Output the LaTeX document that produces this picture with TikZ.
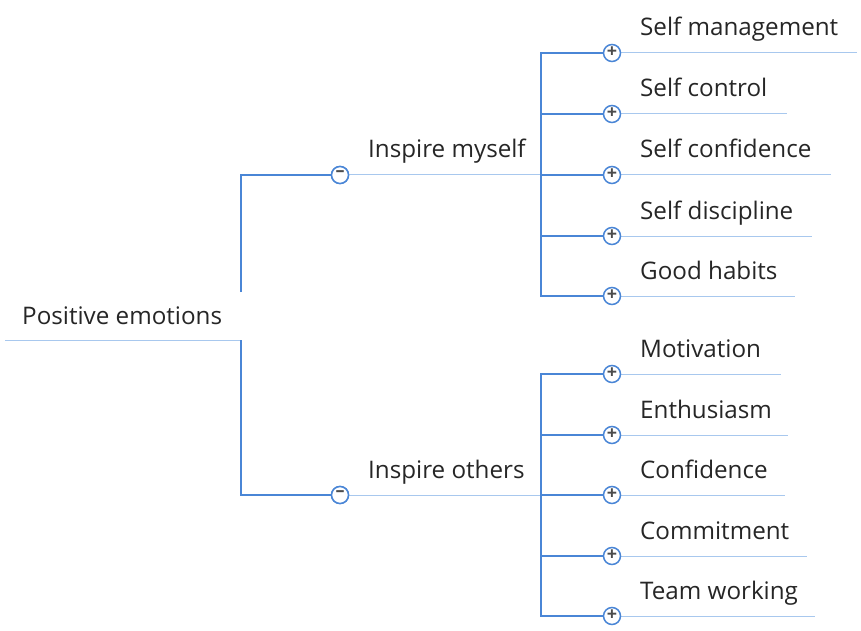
\documentclass[tikz,border=0pt]{standalone}
\usepackage{fontspec}
\setmainfont{Open Sans}
\usepackage{tikz}
\usetikzlibrary{positioning,calc}
\definecolor{LineBlue}{RGB}{74,134,214}
\definecolor{PaleBlue}{RGB}{168,200,238}
\definecolor{TextGray}{RGB}{38,38,38}
\tikzset{
  main/.style={draw=LineBlue,line width=1.5pt},
  under/.style={draw=PaleBlue,line width=1pt},
  toggle/.style={circle,draw=LineBlue,fill=white,line width=1.5pt,minimum size=17pt,
    inner sep=0pt,text=black!70,font=\fontsize{18}{18}\selectfont\bfseries},
  topic/.style={anchor=base west,inner sep=0pt,text=TextGray,font=\fontsize{24.2}{26}\selectfont},
}

\begin{document}
\begin{tikzpicture}[x=1pt,y=-1pt]
\useasboundingbox (0,0) rectangle (861,631);
% root
\coordinate (r0) at (5,340);
\coordinate (r1) at (241,340);
\coordinate (r2) at (241,292);
\draw[under] (r0) -- (r1);
\node[topic] (root) at (22,324) {Positive emotions};
% branches
\coordinate (b1) at (541,175);
\coordinate (b2) at (541,495);
\node[toggle] (t1) at (340,175) {};
\node[toggle] (t2) at (340,495) {};
\draw[main] (r2) |- (t1.west);
\draw[main] (r1) |- (t2.west);
\draw[under] (t1.east) -- (b1);
\draw[under] (t2.east) -- (b2);
\node[topic] (n1) at (368,158) {Inspire myself};
\node[topic] (n2) at (368,478) {Inspire others};
% leaves, inspire myself
\foreach \y/\e/\txt [count=\i] in {53/857/Self management,114/787/Self control,
  175/831/Self confidence,236/812/Self discipline,296/795/Good habits}{
  \coordinate (p\i) at (612,\y);
  \draw[main] (b1) |- ($(p\i)+(-8,0)$);
  \draw[under] ($(p\i)+(8,0)$) -- (\e,\y);
  \node[toggle] (pt\i) at (p\i) {\raisebox{1.5pt}{+}};
  \node[topic] (l\i) at (640,\y-17) {\txt};
}
% leaves, inspire others
\foreach \y/\e/\txt [count=\i] in {374/781/Motivation,435/788/Enthusiasm,
  495/785/Confidence,556/807/Commitment,616/815/Team working}{
  \coordinate (q\i) at (612,\y);
  \draw[main] (b2) |- ($(q\i)+(-8,0)$);
  \draw[under] ($(q\i)+(8,0)$) -- (\e,\y);
  \node[toggle] (qt\i) at (q\i) {\raisebox{1.5pt}{+}};
  \node[topic] (k\i) at (640,\y-17) {\txt};
}
\node[toggle] at (t1) {\raisebox{2pt}{--}};
\node[toggle] at (t2) {\raisebox{2pt}{--}};
\end{tikzpicture}
\end{document}
